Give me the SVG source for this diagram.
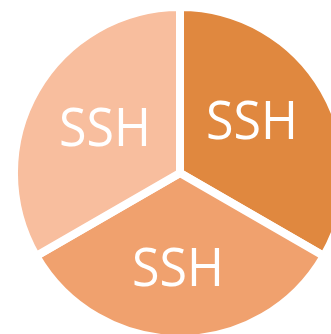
<svg xmlns="http://www.w3.org/2000/svg" width="331" height="334" viewBox="0 0 331 334">
<style>
.slice{stroke:#FFFFFF;stroke-width:8;stroke-linejoin:miter}
.lbl{font-family:"Open Sans","Noto Sans",sans-serif;font-size:53px;fill:#FFFFFF;text-anchor:middle}
</style>
<rect width="331" height="334" fill="#FFFFFF"/>
<g id="slice-right">
<path class="slice" d="M180,173 L180,7 A166,166 0 0 1 323.8,256 Z" fill="#E0883F"/>
<text class="lbl" x="252" y="139" textLength="92" lengthAdjust="spacingAndGlyphs">SSH</text>
</g>
<g id="slice-bottom">
<path class="slice" d="M180,173 L323.8,256 A166,166 0 0 1 36.2,256 Z" fill="#F0A16E"/>
<text class="lbl" x="178" y="286" textLength="92" lengthAdjust="spacingAndGlyphs">SSH</text>
</g>
<g id="slice-left">
<path class="slice" d="M180,173 L36.2,256 A166,166 0 0 1 180,7 Z" fill="#F8BE9E"/>
<text class="lbl" x="105" y="146" textLength="92" lengthAdjust="spacingAndGlyphs">SSH</text>
</g>
<g id="connectors"/>
</svg>
